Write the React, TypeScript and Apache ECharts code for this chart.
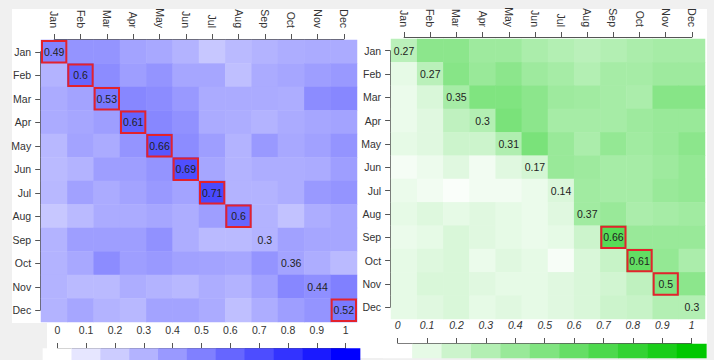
import React, { useEffect, useRef } from "react";
import * as echarts from "echarts";

const months = ["Jan", "Feb", "Mar", "Apr", "May", "Jun", "Jul", "Aug", "Sep", "Oct", "Nov", "Dec"];

const leftDiagonal = [0.49, 0.6, 0.53, 0.61, 0.66, 0.69, 0.71, 0.6, 0.3, 0.36, 0.44, 0.52];
const leftBoxed = [true, true, true, true, true, true, true, true, false, false, false, true];
const rightDiagonal = [0.27, 0.27, 0.35, 0.3, 0.31, 0.17, 0.14, 0.37, 0.66, 0.61, 0.5, 0.3];
const rightBoxed = [false, false, false, false, false, false, false, false, true, true, true, false];

// rows = y (Jan..Dec), cols = x (Jan..Dec)
const leftMatrix = [
  [0.49, 0.42, 0.42, 0.36, 0.34, 0.3, 0.22, 0.27, 0.3, 0.32, 0.33, 0.33],
  [0.3, 0.6, 0.45, 0.38, 0.42, 0.35, 0.35, 0.25, 0.33, 0.35, 0.38, 0.4],
  [0.33, 0.36, 0.53, 0.47, 0.45, 0.4, 0.33, 0.33, 0.33, 0.32, 0.45, 0.47],
  [0.33, 0.35, 0.38, 0.61, 0.47, 0.43, 0.33, 0.32, 0.3, 0.33, 0.35, 0.36],
  [0.28, 0.36, 0.33, 0.42, 0.66, 0.45, 0.38, 0.3, 0.4, 0.34, 0.37, 0.42],
  [0.27, 0.3, 0.38, 0.38, 0.42, 0.69, 0.35, 0.3, 0.32, 0.32, 0.33, 0.38],
  [0.28, 0.37, 0.33, 0.36, 0.4, 0.36, 0.71, 0.3, 0.3, 0.32, 0.4, 0.42],
  [0.22, 0.27, 0.33, 0.33, 0.35, 0.32, 0.38, 0.6, 0.3, 0.24, 0.32, 0.35],
  [0.3, 0.38, 0.38, 0.38, 0.43, 0.32, 0.27, 0.27, 0.3, 0.37, 0.35, 0.35],
  [0.3, 0.34, 0.45, 0.38, 0.4, 0.37, 0.36, 0.35, 0.42, 0.36, 0.32, 0.27],
  [0.3, 0.27, 0.27, 0.32, 0.3, 0.28, 0.32, 0.3, 0.37, 0.47, 0.44, 0.5],
  [0.3, 0.35, 0.3, 0.28, 0.36, 0.36, 0.33, 0.25, 0.32, 0.38, 0.42, 0.52],
];

const rightMatrix = [
  [0.27, 0.45, 0.45, 0.38, 0.38, 0.33, 0.3, 0.27, 0.3, 0.33, 0.35, 0.35],
  [0.1, 0.27, 0.47, 0.4, 0.45, 0.38, 0.35, 0.3, 0.35, 0.35, 0.38, 0.38],
  [0.08, 0.15, 0.35, 0.5, 0.5, 0.45, 0.38, 0.37, 0.35, 0.33, 0.47, 0.47],
  [0.08, 0.12, 0.25, 0.3, 0.52, 0.45, 0.35, 0.35, 0.35, 0.38, 0.4, 0.4],
  [0.1, 0.12, 0.2, 0.2, 0.31, 0.52, 0.4, 0.33, 0.42, 0.37, 0.4, 0.45],
  [0.04, 0.07, 0.12, 0.05, 0.12, 0.17, 0.4, 0.38, 0.35, 0.35, 0.38, 0.42],
  [0.08, 0.05, 0.02, 0.05, 0.05, 0.08, 0.14, 0.37, 0.35, 0.35, 0.4, 0.42],
  [0.1, 0.13, 0.1, 0.12, 0.1, 0.08, 0.12, 0.37, 0.4, 0.33, 0.35, 0.37],
  [0.08, 0.1, 0.15, 0.12, 0.1, 0.08, 0.1, 0.2, 0.66, 0.4, 0.4, 0.4],
  [0.1, 0.13, 0.15, 0.08, 0.12, 0.1, 0.03, 0.15, 0.22, 0.61, 0.42, 0.33],
  [0.1, 0.15, 0.15, 0.12, 0.1, 0.1, 0.12, 0.15, 0.18, 0.25, 0.5, 0.45],
  [0.1, 0.12, 0.15, 0.1, 0.12, 0.1, 0.12, 0.15, 0.2, 0.22, 0.3, 0.3],
];

const colorLevels = [0, 0.1, 0.2, 0.3, 0.4, 0.5, 0.6, 0.7, 0.8, 0.9, 1];
const levelLabels = ["0", "0.1", "0.2", "0.3", "0.4", "0.5", "0.6", "0.7", "0.8", "0.9", "1"];

const FONT = "Liberation Sans, Arial, sans-serif";

function toCells(m: number[][]) {
  const out: number[][] = [];
  m.forEach((row, r) => row.forEach((v, c) => out.push([c, r, v])));
  return out;
}

function overlayData(diag: number[], boxed: boolean[]) {
  return diag.map((v, i) => [i, i, v, boxed[i] ? 1 : 0]);
}

function renderOverlay(params: any, api: any) {
  const c = api.coord([api.value(0), api.value(1)]);
  const s = api.size([1, 1]);
  const v = api.value(2);
  const boxed = api.value(3) === 1;
  const children: any[] = [];
  if (boxed) {
    children.push({
      type: "rect",
      shape: { x: c[0] - s[0] / 2 + 1, y: c[1] - s[1] / 2 + 1, width: s[0] - 2, height: s[1] - 2 },
      style: { fill: "none", stroke: "#e3222d", lineWidth: 2 },
    });
  }
  children.push({
    type: "text",
    x: c[0],
    y: c[1],
    style: {
      text: String(v),
      align: "center",
      verticalAlign: "middle",
      textAlign: "center",
      textVerticalAlign: "middle",
      fill: "#222",
      font: `10.5px ${FONT}`,
    },
  });
  return { type: "group", children };
}

function frameX(grid: number, offset: number, margin: number, data: string[], italic = false, rotate = 0) {
  return {
    type: "category",
    gridIndex: grid,
    data,
    boundaryGap: false,
    position: "top",
    offset,
    axisLine: { show: true, lineStyle: { color: "#555", width: 1 } },
    axisTick: { show: true, length: 5, interval: 0, lineStyle: { color: "#555" } },
    axisLabel: {
      interval: 0,
      rotate,
      margin,
      fontSize: 10.5,
      color: "#333",
      fontFamily: FONT,
      fontStyle: italic ? "italic" : "normal",
    },
    splitLine: { show: false },
  };
}

function frameY(grid: number, offset: number, margin: number) {
  return {
    type: "category",
    gridIndex: grid,
    data: months,
    inverse: true,
    boundaryGap: false,
    position: "left",
    offset,
    axisLine: { show: true, lineStyle: { color: "#555", width: 1 } },
    axisTick: { show: true, length: 5, interval: 0, lineStyle: { color: "#555" } },
    axisLabel: { interval: 0, margin, fontSize: 10.5, color: "#333", fontFamily: FONT },
    splitLine: { show: false },
  };
}

export default function App() {
  const ref = useRef<HTMLDivElement>(null);
  useEffect(() => {
    if (!ref.current) return;
    const chart = echarts.init(ref.current, undefined, { renderer: "svg" });
    const hiddenCat = (grid: number, data: string[], inverse = false) => ({
      type: "category",
      gridIndex: grid,
      data,
      inverse,
      show: false,
    });
    const option: any = {
      animation: false,
      backgroundColor: "#f0f0f0",
      graphic: [
        { type: "rect", z: -1, silent: true, shape: { x: 12, y: 9, width: 346, height: 314 }, style: { fill: "#ffffff" } },
        { type: "rect", z: -1, silent: true, shape: { x: 47, y: 322, width: 311, height: 38 }, style: { fill: "#ffffff" } },
        { type: "rect", z: -1, silent: true, shape: { x: 358, y: 9, width: 349, height: 349 }, style: { fill: "#ffffff" } },
      ],
      grid: [
        { left: 41, top: 40, width: 316, height: 282 },
        { left: 54.2, top: 51.75, width: 289.7, height: 258.5 },
        { left: 391, top: 39, width: 314, height: 280 },
        { left: 404.1, top: 50.7, width: 287.8, height: 256.6 },
        { left: 42.9, top: 348.5, width: 317.2, height: 12 },
        { left: 57.3, top: 347, width: 288.4, height: 1 },
        { left: 383, top: 344, width: 323.4, height: 14 },
        { left: 397.7, top: 342, width: 294, height: 1 },
      ],
      xAxis: [
        hiddenCat(0, months),
        frameX(1, 12.75, 11, months, false, 90),
        hiddenCat(2, months),
        frameX(3, 13.7, 10, months, false, 90),
        hiddenCat(4, levelLabels),
        frameX(5, 0, 12, levelLabels),
        hiddenCat(6, levelLabels),
        frameX(7, 0, 12, levelLabels, true),
      ],
      yAxis: [
        hiddenCat(0, months, true),
        frameY(1, 14, 9),
        hiddenCat(2, months, true),
        frameY(3, 14, 9),
        hiddenCat(4, ["bar"]),
        { type: "value", gridIndex: 5, show: false },
        hiddenCat(6, ["bar"]),
        { type: "value", gridIndex: 7, show: false },
      ],
      visualMap: [
        { type: "continuous", show: false, min: 0, max: 1, seriesIndex: [0, 2], inRange: { color: ["#ffffff", "#0000ff"] } },
        { type: "continuous", show: false, min: 0, max: 1, seriesIndex: [1, 3], inRange: { color: ["#ffffff", "#00c800"] } },
      ],
      series: [
        { type: "heatmap", xAxisIndex: 0, yAxisIndex: 0, data: toCells(leftMatrix), emphasis: { disabled: true } },
        { type: "heatmap", xAxisIndex: 2, yAxisIndex: 2, data: toCells(rightMatrix), emphasis: { disabled: true } },
        { type: "heatmap", xAxisIndex: 4, yAxisIndex: 4, data: colorLevels.map((v, i) => [i, 0, v]), emphasis: { disabled: true } },
        { type: "heatmap", xAxisIndex: 6, yAxisIndex: 6, data: colorLevels.map((v, i) => [i, 0, v]), emphasis: { disabled: true } },
        { type: "custom", xAxisIndex: 0, yAxisIndex: 0, data: overlayData(leftDiagonal, leftBoxed), renderItem: renderOverlay, z: 5, silent: true },
        { type: "custom", xAxisIndex: 2, yAxisIndex: 2, data: overlayData(rightDiagonal, rightBoxed), renderItem: renderOverlay, z: 5, silent: true },
      ],
    };
    chart.setOption(option);
    return () => chart.dispose();
  }, []);
  return <div ref={ref} style={{ position: "fixed", left: 0, top: 0, width: 714, height: 360 }} />;
}
